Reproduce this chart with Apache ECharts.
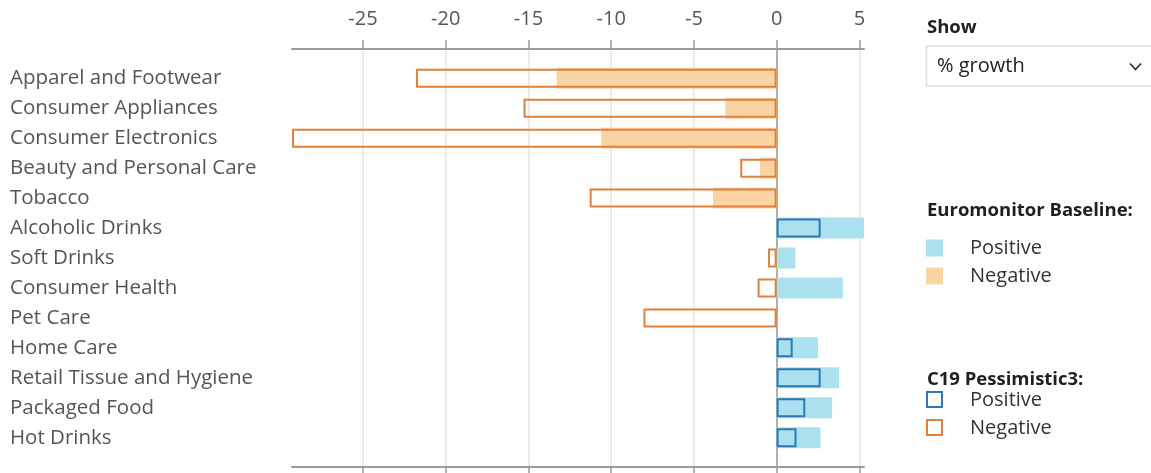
<!DOCTYPE html>
<html>
<head>
<meta charset="utf-8">
<style>
  html, body { margin: 0; padding: 0; background: #fff; }
  #chart { width: 1151px; height: 473px; }
</style>
<script src="https://cdn.jsdelivr.net/npm/echarts@6/dist/echarts.min.js"></script>
</head>
<body>
<div id="chart"></div>
<script>
// Categories, top to bottom
const categories = [
  'Apparel and Footwear', 'Consumer Appliances', 'Consumer Electronics',
  'Beauty and Personal Care', 'Tobacco', 'Alcoholic Drinks', 'Soft Drinks',
  'Consumer Health', 'Pet Care', 'Home Care', 'Retail Tissue and Hygiene',
  'Packaged Food', 'Hot Drinks'
];

// % growth, Euromonitor Baseline scenario
const baselineGrowth = [-13.3, -3.1, -10.6, -1.0, -3.85, 5.28, 1.13, 4.0, 0, 2.5, 3.78, 3.35, 2.65];

// % growth, C19 Pessimistic3 scenario
const pessimisticGrowth = [-21.8, -15.3, -29.29, -2.2, -11.3, 2.66, -0.52, -1.15, -8.05, 0.97, 2.66, 1.73, 1.2];

// Value-axis tick labels
const xTicks = [-25, -20, -15, -10, -5, 0, 5];

const COLORS = {
  posFill: '#abe1ef',
  negFill: '#fbd4a6',
  posLine: '#2a79b6',
  negLine: '#e0803a',
  axis: '#9b9b9b',
  grid: '#e4e4e4',
  label: '#555555',
  heading: '#1f1f1f'
};
const FONT = '"Open Sans", "Noto Sans", sans-serif';

// Axis domain spans the data extent
const allValues = baselineGrowth.concat(pessimisticGrowth);
const xMin = Math.min.apply(null, allValues);
const xMax = Math.max.apply(null, allValues);

const PLOT_LEFT = 292;
const PLOT_RIGHT = 287;

const chart = echarts.init(document.getElementById('chart'), null, { renderer: 'canvas' });

const option = {
  animation: false,
  backgroundColor: '#fff',
  grid: [
    // frame: top/bottom axes, grid lines and zero line
    { left: PLOT_LEFT, right: PLOT_RIGHT, top: 49, bottom: 6 },
    // bars and category labels
    { left: PLOT_LEFT, right: PLOT_RIGHT, top: 63.3, bottom: 20.3 }
  ],
  xAxis: [
    {
      type: 'value', gridIndex: 0, position: 'top', min: xMin, max: xMax,
      axisLine: { show: true, onZero: false, lineStyle: { color: COLORS.axis, width: 2 } },
      axisTick: { show: true, length: 9, customValues: xTicks, lineStyle: { color: COLORS.axis, width: 1.5 } },
      axisLabel: { customValues: xTicks, margin: 20, fontSize: 20, color: COLORS.label, fontFamily: FONT },
      splitLine: { show: true, lineStyle: { color: COLORS.grid, width: 1.5 } }
    },
    {
      type: 'value', gridIndex: 0, position: 'bottom', min: xMin, max: xMax,
      axisLine: { show: true, onZero: false, lineStyle: { color: COLORS.axis, width: 2 } },
      axisTick: { show: true, length: 9, customValues: xTicks, lineStyle: { color: COLORS.axis, width: 1.5 } },
      axisLabel: { show: false },
      splitLine: { show: false }
    },
    { type: 'value', gridIndex: 1, min: xMin, max: xMax, show: false }
  ],
  yAxis: [
    {
      type: 'value', gridIndex: 0, min: 0, max: 1,
      axisLine: { show: true, onZero: true, lineStyle: { color: COLORS.axis, width: 1.5 } },
      axisTick: { show: false }, axisLabel: { show: false }, splitLine: { show: false }
    },
    {
      type: 'category', gridIndex: 1, data: categories, inverse: true,
      axisLine: { show: false }, axisTick: { show: false }, splitLine: { show: false },
      axisLabel: { align: 'left', margin: PLOT_LEFT - 10, fontSize: 20.5, color: COLORS.label, fontFamily: FONT }
    },
    {
      type: 'category', gridIndex: 1, data: categories, inverse: true, show: false
    }
  ],
  series: [
    {
      name: 'Euromonitor Baseline', type: 'bar', xAxisIndex: 2, yAxisIndex: 1,
      barWidth: 21, silent: true,
      data: baselineGrowth.map(v => ({
        value: v,
        itemStyle: { color: v >= 0 ? COLORS.posFill : COLORS.negFill }
      }))
    },
    {
      name: 'C19 Pessimistic3', type: 'bar', xAxisIndex: 2, yAxisIndex: 2,
      barWidth: 19, silent: true, z: 3,
      data: pessimisticGrowth.map(v => ({
        value: v,
        itemStyle: {
          color: 'rgba(0,0,0,0)',
          borderColor: v >= 0 ? COLORS.posLine : COLORS.negLine,
          borderWidth: 2
        }
      }))
    }
  ],
  graphic: [
    // "Show" selector
    { type: 'text', x: 927, y: 28, style: { text: 'Show', font: 'bold 18.5px ' + FONT, fill: COLORS.heading, verticalAlign: 'middle' } },
    { type: 'rect', shape: { x: 926.5, y: 46, width: 240, height: 40 }, style: { fill: '#fff', stroke: '#dedede', lineWidth: 1.5 } },
    { type: 'text', x: 937, y: 66.5, style: { text: '% growth', font: '20px ' + FONT, fill: '#222', verticalAlign: 'middle' } },
    { type: 'polyline', shape: { points: [[1130, 63.5], [1135.5, 69.5], [1141, 63.5]] }, style: { stroke: '#333', lineWidth: 1.8, fill: null } },

    // Legend: Euromonitor Baseline
    { type: 'text', x: 927, y: 211, style: { text: 'Euromonitor Baseline:', font: 'bold 18.5px ' + FONT, fill: COLORS.heading, verticalAlign: 'middle' } },
    { type: 'rect', shape: { x: 926, y: 239.5, width: 17, height: 17 }, style: { fill: COLORS.posFill } },
    { type: 'text', x: 970, y: 248, style: { text: 'Positive', font: '20px ' + FONT, fill: '#333', verticalAlign: 'middle' } },
    { type: 'rect', shape: { x: 926, y: 267.5, width: 17, height: 17 }, style: { fill: COLORS.negFill } },
    { type: 'text', x: 970, y: 276.5, style: { text: 'Negative', font: '20px ' + FONT, fill: '#333', verticalAlign: 'middle' } },

    // Legend: C19 Pessimistic3
    { type: 'text', x: 927, y: 380, style: { text: 'C19 Pessimistic3:', font: 'bold 18.5px ' + FONT, fill: COLORS.heading, verticalAlign: 'middle' } },
    { type: 'rect', shape: { x: 927, y: 392, width: 15, height: 15 }, style: { fill: '#fff', stroke: COLORS.posLine, lineWidth: 2 } },
    { type: 'text', x: 970, y: 400, style: { text: 'Positive', font: '20px ' + FONT, fill: '#333', verticalAlign: 'middle' } },
    { type: 'rect', shape: { x: 927, y: 420, width: 15, height: 15 }, style: { fill: '#fff', stroke: COLORS.negLine, lineWidth: 2 } },
    { type: 'text', x: 970, y: 428, style: { text: 'Negative', font: '20px ' + FONT, fill: '#333', verticalAlign: 'middle' } }
  ]
};

chart.setOption(option);
</script>
</body>
</html>
